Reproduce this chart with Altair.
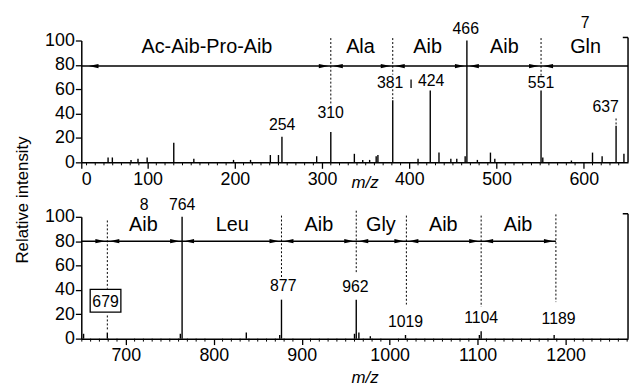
import altair as alt
import pandas as pd

FONT = "Liberation Sans"

# ---------------- data ----------------
# upper panel (m/z 0-650)
top_mz = [54.7, 59.6, 81, 89, 99.5, 130, 153, 198.5, 218, 240.7, 250, 254, 293.8, 310, 337,
          346.6, 354.5, 362, 364, 381, 410, 424, 434, 447.6, 454.4, 464, 466, 478, 493, 498,
          551, 553, 585.8, 610, 621, 637, 646]
top_int = [4, 4, 2, 3, 4, 16, 3, 2, 2, 6, 6, 21, 5, 25, 7,
           2, 2, 5, 6, 51, 3, 59, 8, 3, 3, 5, 100, 2, 8, 3,
           59, 4, 1.5, 8, 5, 30, 7]
top_domain = [24, 650.7]
top_ticks = [24, 100, 200, 300, 400, 500, 600]

top_lab_text = ["254", "310", "381", "424", "466", "551", "637", "7"]
top_lab_mz = [254.3, 309.8, 378, 425, 464.7, 551, 625, 601.7]
top_lab_y = [26.8, 36.6, 61, 62.6, 105.7, 61, 41.5, 110.6]

top_res = ["Ac-Aib-Pro-Aib", "Ala", "Aib", "Aib", "Gln"]
top_res_mz = [168, 344, 421, 509, 602]
top_res_y = [89.4, 89.4, 89.4, 89.4, 89.4]

top_dot_mz = [310, 381, 381, 551, 637]
top_dot_y1 = [102, 102, 60, 102, 36]
top_dot_y2 = [48, 72, 52, 71, 30]

top_mark_mz = [402]
top_mark_y1 = [68]
top_mark_y2 = [61]

top_arrow_level = 79
top_right_tips = [310, 381, 466, 551]
top_left_tips = [30, 310, 381, 466, 551]
top_line = [24, 650.7]

# lower panel (m/z 650-1270)
bot_mz = [652, 679, 762, 764, 837, 875, 877, 960, 962, 965, 978, 1018, 1102, 1104, 1187]
bot_int = [4, 5, 4, 100, 5, 3, 32, 4, 32, 5, 2, 3, 3, 6, 3]
bot_domain = [649.4, 1271]
bot_ticks = [700, 800, 900, 1000, 1100, 1200]

bot_lab_text = ["8", "764", "877", "962", "1019", "1104", "1189"]
bot_lab_mz = [721, 764, 879, 961, 1018, 1104, 1192]
bot_lab_y = [106, 106, 39.4, 38, 9.5, 13, 12.2]

bot_box_text = ["679"]
bot_box_mz = [677]
bot_box_y = [25.8]
bot_box_x1 = [659.5]
bot_box_x2 = [694.4]
bot_box_y1 = [21.8]
bot_box_y2 = [40.5]

bot_res = ["Aib", "Leu", "Aib", "Gly", "Aib", "Aib"]
bot_res_mz = [720, 821, 919.5, 990, 1061, 1146]
bot_res_y = [88.3] * 6

bot_dot_mz = [679, 679, 877, 962, 1019, 1104, 1189]
bot_dot_y1 = [97, 19, 101, 105, 101, 101, 102]
bot_dot_y2 = [41, 6, 49, 54, 28, 26, 30]

bot_arrow_level = 80
bot_right_tips = [679, 764, 877, 962, 1019, 1104, 1189]
bot_left_tips = [679, 764, 877, 962, 1019, 1104]
bot_line = [649.4, 1189]

# ---------------- building ----------------
W, H = 552, 123
RIGHT = "M-0.2,0 L-1.1,-0.2 L-1.1,0.2 Z"
LEFT = "M0.2,0 L1.1,-0.2 L1.1,0.2 Z"


def panel(mz, inten, domain, ticks, lab_text, lab_mz, lab_y, res, res_mz, res_y,
          dot_mz, dot_y1, dot_y2, level, rtips, ltips, line, title_y, zero_label,
          extra=None):
    xs = alt.Scale(domain=domain, nice=False, zero=False)
    ys = alt.Scale(domain=[0, 100], nice=False)
    label_expr = "datum.value < 50 ? '0' : format(datum.value, 'd')" if zero_label else "format(datum.value, 'd')"
    xaxis = alt.Axis(values=ticks, labelExpr=label_expr, tickSize=6, labelFontSize=18,
                     labelPadding=2, labelFont=FONT, labelColor="black",
                     title="m/z", titleFontStyle="italic", titleFontWeight="normal",
                     titleFontSize=17, titleFont=FONT, titleColor="black",
                     titleX=286, titleY=title_y, titleBaseline="alphabetic",
                     domainColor="black", domainWidth=1.5, tickColor="black", tickWidth=1.3,
                     grid=False, labelOverlap=False)
    yaxis = alt.Axis(values=[0, 20, 40, 60, 80, 100], tickSize=6, labelFontSize=18,
                     labelPadding=1, labelFont=FONT, labelColor="black", title=None,
                     domainColor="black", domainWidth=1.5, tickColor="black", tickWidth=1.3,
                     grid=False)

    def X(f):
        return alt.X(f, scale=xs, axis=xaxis, title="m/z")

    def Y(f):
        return alt.Y(f, scale=ys, axis=yaxis, title=None)

    peaks = pd.DataFrame({"mz": mz, "y": inten, "base": [0] * len(mz)})
    base = alt.Chart(peaks).mark_rule(color="black", strokeWidth=1.4).encode(
        x=X("mz:Q"), y=Y("y:Q"), y2="base:Q")

    step = 10
    minor = [v for v in range(int(domain[0] // step * step + step), int(domain[1]), step) if v % 100]
    minor_l = alt.Chart(pd.DataFrame({"mz": minor})).mark_rule(color="black", strokeWidth=1).encode(
        x=X("mz:Q"), y=alt.value(H), y2=alt.value(H + 3))

    dots = alt.Chart(pd.DataFrame({"mz": dot_mz, "y1": dot_y1, "y2": dot_y2})).mark_rule(
        color="black", strokeWidth=1, strokeDash=[2, 2]).encode(
        x=X("mz:Q"), y=Y("y1:Q"), y2="y2:Q")

    hl = alt.Chart(pd.DataFrame({"x1": [line[0]], "x2": [line[1]], "y": [level]})).mark_rule(
        color="black", strokeWidth=1.5).encode(
        x=X("x1:Q"), x2="x2:Q", y=Y("y:Q"))

    ra = alt.Chart(pd.DataFrame({"mz": rtips, "y": [level] * len(rtips)})).mark_point(
        shape=RIGHT, size=484, filled=True, color="black", opacity=1, strokeWidth=0).encode(
        x=X("mz:Q"), y=Y("y:Q"))
    la = alt.Chart(pd.DataFrame({"mz": ltips, "y": [level] * len(ltips)})).mark_point(
        shape=LEFT, size=484, filled=True, color="black", opacity=1, strokeWidth=0).encode(
        x=X("mz:Q"), y=Y("y:Q"))

    labs = alt.Chart(pd.DataFrame({"t": lab_text, "mz": lab_mz, "y": lab_y})).mark_text(
        font=FONT, fontSize=16, baseline="alphabetic", align="center", color="black").encode(
        x=X("mz:Q"), y=Y("y:Q"), text="t:N")

    resl = alt.Chart(pd.DataFrame({"t": res, "mz": res_mz, "y": res_y})).mark_text(
        font=FONT, fontSize=20, baseline="alphabetic", align="center", color="black").encode(
        x=X("mz:Q"), y=Y("y:Q"), text="t:N")

    frame = alt.Chart(pd.DataFrame({"x1": [domain[1], domain[1] - 6], "x2": [domain[1], domain[1]],
                                    "y1": [0, 102.5], "y2": [102.5, 102.5]})).mark_rule(
        color="black", strokeWidth=1.5).encode(
        x=X("x1:Q"), x2="x2:Q", y=Y("y1:Q"), y2="y2:Q")

    layers = [base, minor_l, dots, hl, ra, la, frame]
    if extra is not None:
        layers += extra(X, Y)
    layers += [labs, resl]
    return alt.layer(*layers).properties(width=W, height=H)


def top_extra(X, Y):
    m = alt.Chart(pd.DataFrame({"mz": top_mark_mz, "y1": top_mark_y1, "y2": top_mark_y2})).mark_rule(
        color="black", strokeWidth=1.3).encode(x=X("mz:Q"), y=Y("y1:Q"), y2="y2:Q")
    return [m]


def bot_extra(X, Y):
    box = alt.Chart(pd.DataFrame({"x1": bot_box_x1, "x2": bot_box_x2, "y1": bot_box_y1,
                                  "y2": bot_box_y2})).mark_rect(
        fill="white", stroke="black", strokeWidth=1.3).encode(
        x=X("x1:Q"), x2="x2:Q", y=Y("y1:Q"), y2="y2:Q")
    t = alt.Chart(pd.DataFrame({"t": bot_box_text, "mz": bot_box_mz, "y": bot_box_y})).mark_text(
        font=FONT, fontSize=16, baseline="alphabetic", align="center", color="black").encode(
        x=X("mz:Q"), y=Y("y:Q"), text="t:N")
    return [box, t]


top = panel(top_mz, top_int, top_domain, top_ticks, top_lab_text, top_lab_mz, top_lab_y,
            top_res, top_res_mz, top_res_y, top_dot_mz, top_dot_y1, top_dot_y2,
            top_arrow_level, top_right_tips, top_left_tips, top_line, 25, True, top_extra)
bot = panel(bot_mz, bot_int, bot_domain, bot_ticks, bot_lab_text, bot_lab_mz, bot_lab_y,
            bot_res, bot_res_mz, bot_res_y, bot_dot_mz, bot_dot_y1, bot_dot_y2,
            bot_arrow_level, bot_right_tips, bot_left_tips, bot_line, 44, False, bot_extra)

chart = alt.vconcat(top, bot, spacing=6).properties(
    title=alt.TitleParams("Relative intensity", orient="left", anchor="middle", fontSize=17,
                          fontWeight="normal", font=FONT, color="black", offset=13),
    padding={"left": 5, "top": 4, "right": 2, "bottom": 0},
).configure_view(stroke=None)

chart.save("out.html", embed_options={"renderer": "svg", "actions": False})
